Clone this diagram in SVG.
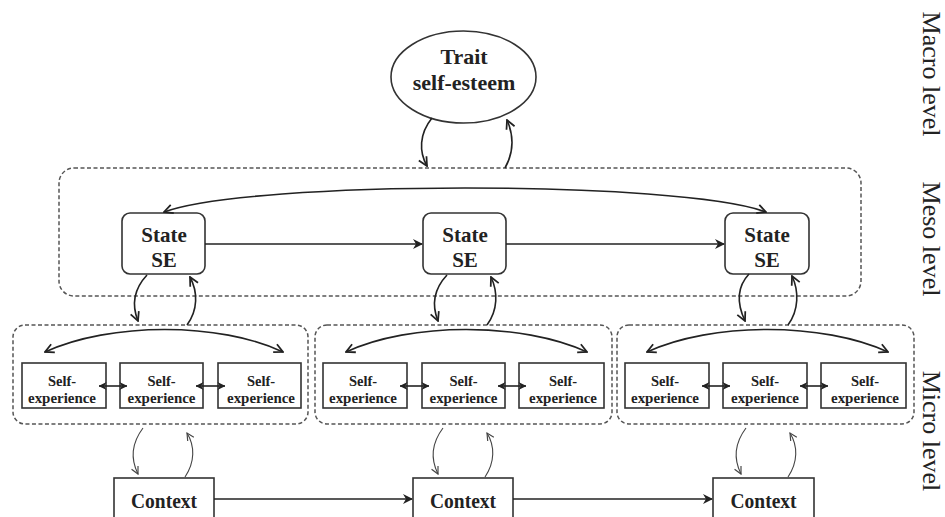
<svg xmlns="http://www.w3.org/2000/svg" width="945" height="517" viewBox="0 0 945 517">
<style>
.node{fill:#fff;stroke:#333;stroke-width:1.6}
.grp{fill:none;stroke:#555;stroke-width:1.5;stroke-dasharray:4 2.5}
.t{font-family:"Liberation Serif","Times New Roman",serif;font-weight:bold;fill:#222;text-anchor:middle}
.s{font-size:14.5px}
.lvl{font-family:"Liberation Serif","Times New Roman",serif;font-size:26px;fill:#222;text-anchor:middle}
.c{fill:none;stroke:#222;stroke-width:1.6}
.cl{fill:none;stroke:#444;stroke-width:1.1}
</style>
<defs>
<marker id="sol" viewBox="0 0 10 10" refX="9" refY="5" markerWidth="10" markerHeight="10" markerUnits="userSpaceOnUse" orient="auto-start-reverse">
<path d="M0,0 L10,5 L0,10 L3,5 z" fill="#222"/>
</marker>
<marker id="opn" viewBox="0 0 10 10" refX="9" refY="5" markerWidth="11" markerHeight="11" markerUnits="userSpaceOnUse" orient="auto-start-reverse">
<path d="M1,1 L9,5 L1,9" fill="none" stroke="#222" stroke-width="1.6"/>
</marker>
<marker id="sm" viewBox="0 0 10 10" refX="9.5" refY="5" markerWidth="8" markerHeight="9" markerUnits="userSpaceOnUse" orient="auto-start-reverse">
<path d="M0,0 L10,5 L0,10 L3,5 z" fill="#222"/>
</marker>
<marker id="lt" viewBox="0 0 10 10" refX="9" refY="5" markerWidth="9" markerHeight="9" markerUnits="userSpaceOnUse" orient="auto-start-reverse">
<path d="M1,1 L9,5 L1,9" fill="none" stroke="#444" stroke-width="1.3"/>
</marker>
</defs>
<rect width="945" height="517" fill="#fff"/>

<g id="groups">
<rect id="meso-group" class="grp" x="59" y="168" width="802" height="128" rx="15"/>
<rect id="micro-group-1" class="grp" x="13" y="325" width="295" height="99" rx="12"/>
<rect id="micro-group-2" class="grp" x="315" y="325" width="297" height="99" rx="12"/>
<rect id="micro-group-3" class="grp" x="617" y="325" width="297" height="99" rx="12"/>
</g>

<g id="trait">
<ellipse class="node" cx="463.5" cy="77" rx="72.5" ry="46"/>
<text class="t" x="464" y="64" font-size="22">Trait</text>
<text class="t" x="464" y="90" font-size="22">self-esteem</text>
</g>

<g id="state1">
<rect class="node" x="122" y="213" width="83" height="61" rx="8"/>
<text class="t" x="164" y="242" font-size="21">State</text>
<text class="t" x="164" y="267" font-size="21">SE</text>
</g>
<g id="state2">
<rect class="node" x="423" y="213" width="83" height="61" rx="8"/>
<text class="t" x="465" y="242" font-size="21">State</text>
<text class="t" x="465" y="267" font-size="21">SE</text>
</g>
<g id="state3">
<rect class="node" x="725" y="213" width="84" height="61" rx="8"/>
<text class="t" x="767" y="242" font-size="21">State</text>
<text class="t" x="767" y="267" font-size="21">SE</text>
</g>

<g id="se1a"><rect class="node" x="22" y="363" width="84" height="45"/><text class="t s" x="62" y="386">Self-</text><text class="t s" x="62" y="403" textLength="68" lengthAdjust="spacingAndGlyphs">experience</text></g>
<g id="se1b"><rect class="node" x="120" y="363" width="83" height="45"/><text class="t s" x="161.5" y="386">Self-</text><text class="t s" x="161.5" y="403" textLength="68" lengthAdjust="spacingAndGlyphs">experience</text></g>
<g id="se1c"><rect class="node" x="218" y="363" width="83" height="45"/><text class="t s" x="261" y="386">Self-</text><text class="t s" x="261" y="403" textLength="68" lengthAdjust="spacingAndGlyphs">experience</text></g>
<g id="se2a"><rect class="node" x="323" y="363" width="84" height="45"/><text class="t s" x="363" y="386">Self-</text><text class="t s" x="363" y="403" textLength="68" lengthAdjust="spacingAndGlyphs">experience</text></g>
<g id="se2b"><rect class="node" x="422" y="363" width="83" height="45"/><text class="t s" x="463.5" y="386">Self-</text><text class="t s" x="463.5" y="403" textLength="68" lengthAdjust="spacingAndGlyphs">experience</text></g>
<g id="se2c"><rect class="node" x="519" y="363" width="85" height="45"/><text class="t s" x="563" y="386">Self-</text><text class="t s" x="563" y="403" textLength="68" lengthAdjust="spacingAndGlyphs">experience</text></g>
<g id="se3a"><rect class="node" x="625" y="363" width="84" height="45"/><text class="t s" x="665" y="386">Self-</text><text class="t s" x="665" y="403" textLength="68" lengthAdjust="spacingAndGlyphs">experience</text></g>
<g id="se3b"><rect class="node" x="723" y="363" width="84" height="45"/><text class="t s" x="765" y="386">Self-</text><text class="t s" x="765" y="403" textLength="68" lengthAdjust="spacingAndGlyphs">experience</text></g>
<g id="se3c"><rect class="node" x="821" y="363" width="85" height="45"/><text class="t s" x="865" y="386">Self-</text><text class="t s" x="865" y="403" textLength="68" lengthAdjust="spacingAndGlyphs">experience</text></g>

<g id="context1"><rect class="node" x="114" y="478" width="100" height="46"/><text class="t" x="164" y="508" font-size="21" textLength="66" lengthAdjust="spacingAndGlyphs">Context</text></g>
<g id="context2"><rect class="node" x="413" y="478" width="100" height="46"/><text class="t" x="463" y="508" font-size="21" textLength="66" lengthAdjust="spacingAndGlyphs">Context</text></g>
<g id="context3"><rect class="node" x="713" y="478" width="101" height="46"/><text class="t" x="763.5" y="508" font-size="21" textLength="66" lengthAdjust="spacingAndGlyphs">Context</text></g>

<g id="connectors">
<path class="c" d="M432,118 C419,134 419,152 427,166" marker-end="url(#opn)"/>
<path class="c" d="M505,168 C514,152 514,136 507,120" marker-end="url(#opn)"/>
<path class="c" d="M164,212 C250,180 680,180 766,212" marker-start="url(#opn)" marker-end="url(#opn)"/>
<line class="c" x1="205" y1="244" x2="422" y2="244" marker-end="url(#sol)"/>
<line class="c" x1="506" y1="244" x2="724" y2="244" marker-end="url(#sol)"/>
<path class="c" d="M147,275 C133,290 132,306 138,321" marker-end="url(#opn)"/>
<path class="c" d="M187,325 C198,310 198,292 190,277" marker-end="url(#opn)"/>
<path class="c" d="M447,275 C433,290 432,306 438,321" marker-end="url(#opn)"/>
<path class="c" d="M487,325 C498,310 498,292 491,277" marker-end="url(#opn)"/>
<path class="c" d="M749,274 C735,289 738,306 745,321" marker-end="url(#opn)"/>
<path class="c" d="M788,325 C799,310 799,291 792,276" marker-end="url(#opn)"/>
<path class="c" d="M45,352 C110,322 220,322 283,352" marker-start="url(#opn)" marker-end="url(#opn)"/>
<path class="c" d="M346,352 C410,322 522,322 587,352" marker-start="url(#opn)" marker-end="url(#opn)"/>
<path class="c" d="M647,352 C712,322 823,322 888,352" marker-start="url(#opn)" marker-end="url(#opn)"/>
<line class="c" x1="99" y1="386" x2="127" y2="386" marker-start="url(#sm)" marker-end="url(#sm)"/>
<line class="c" x1="196" y1="386" x2="225" y2="386" marker-start="url(#sm)" marker-end="url(#sm)"/>
<line class="c" x1="400" y1="386" x2="429" y2="386" marker-start="url(#sm)" marker-end="url(#sm)"/>
<line class="c" x1="498" y1="386" x2="526" y2="386" marker-start="url(#sm)" marker-end="url(#sm)"/>
<line class="c" x1="702" y1="386" x2="730" y2="386" marker-start="url(#sm)" marker-end="url(#sm)"/>
<line class="c" x1="800" y1="386" x2="828" y2="386" marker-start="url(#sm)" marker-end="url(#sm)"/>
<path class="cl" d="M143,428 C131,444 131,460 138,474" marker-end="url(#lt)"/>
<path class="cl" d="M185,477 C195,462 195,446 187,433" marker-end="url(#lt)"/>
<path class="cl" d="M443,428 C431,444 431,460 438,474" marker-end="url(#lt)"/>
<path class="cl" d="M485,477 C495,462 495,446 487,433" marker-end="url(#lt)"/>
<path class="cl" d="M746,428 C734,444 734,460 741,474" marker-end="url(#lt)"/>
<path class="cl" d="M788,477 C798,462 798,446 790,433" marker-end="url(#lt)"/>
<line class="c" x1="214" y1="499" x2="412" y2="499" marker-end="url(#sol)"/>
<line class="c" x1="513" y1="499" x2="712" y2="499" marker-end="url(#sol)"/>
</g>

<g id="levels">
<text class="lvl" x="923" y="74" transform="rotate(90 923 74)">Macro level</text>
<text class="lvl" x="923" y="239" transform="rotate(90 923 239)">Meso level</text>
<text class="lvl" x="923" y="431" transform="rotate(90 923 431)">Micro level</text>
</g>
</svg>
